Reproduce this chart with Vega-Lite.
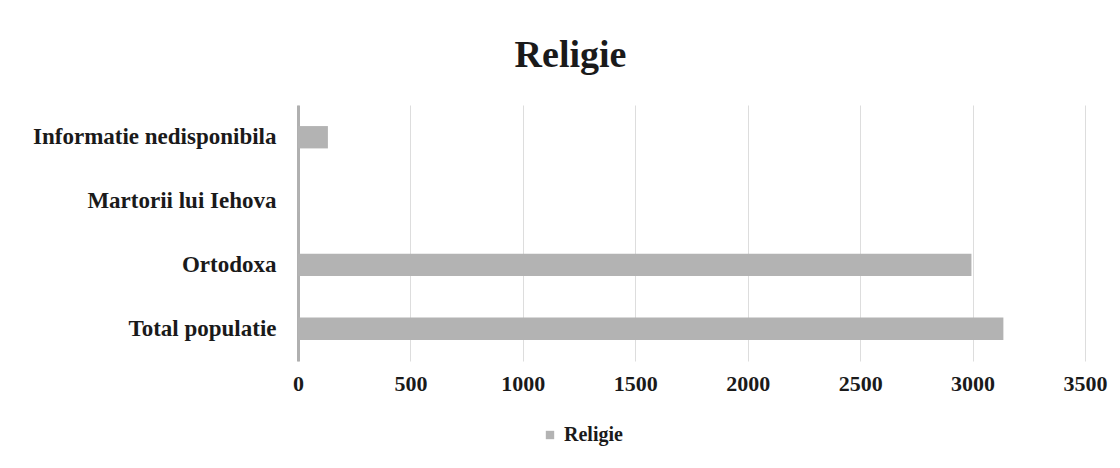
{
  "$schema": "https://vega.github.io/schema/vega-lite/v6.json",
  "autosize": "none",
  "width": 787,
  "height": 256,
  "padding": {"left": 298, "top": 105, "right": 35, "bottom": 107},
  "background": "white",
  "config": {
    "font": "Liberation Serif",
    "view": {"stroke": null}
  },
  "title": {
    "text": "Religie",
    "font": "Liberation Serif",
    "fontSize": 38,
    "fontWeight": "bold",
    "color": "#1a1a1a",
    "anchor": "middle",
    "dx": -121,
    "offset": 30
  },
  "data": {
    "values": [
      {"category": "Total populatie", "value": 3137, "series": "Religie"},
      {"category": "Ortodoxa", "value": 2995, "series": "Religie"},
      {"category": "Martorii lui Iehova", "value": 3, "series": "Religie"},
      {"category": "Informatie nedisponibila", "value": 133, "series": "Religie"}
    ]
  },
  "mark": {"type": "bar", "color": "#b3b3b3"},
  "encoding": {
    "y": {
      "field": "category",
      "type": "nominal",
      "sort": ["Informatie nedisponibila", "Martorii lui Iehova", "Ortodoxa", "Total populatie"],
      "scale": {"paddingInner": 0.65, "paddingOuter": 0.33},
      "axis": {
        "title": null,
        "ticks": false,
        "domain": true,
        "domainColor": "#b0b0b0",
        "domainWidth": 3,
        "labelFont": "Liberation Serif",
        "labelFontSize": 23,
        "labelFontWeight": "bold",
        "labelColor": "#1a1a1a",
        "labelPadding": 22,
        "labelLimit": 300
      }
    },
    "x": {
      "field": "value",
      "type": "quantitative",
      "scale": {"domain": [0, 3500], "nice": false},
      "axis": {
        "title": null,
        "values": [0, 500, 1000, 1500, 2000, 2500, 3000, 3500],
        "format": "d",
        "ticks": false,
        "domain": false,
        "grid": true,
        "gridColor": "#dddddd",
        "gridWidth": 1,
        "labelFont": "Liberation Serif",
        "labelFontSize": 22,
        "labelFontWeight": "bold",
        "labelColor": "#1a1a1a",
        "labelPadding": 12,
        "labelFlush": false
      }
    },
    "color": {
      "field": "series",
      "type": "nominal",
      "scale": {"range": ["#b3b3b3"]},
      "legend": {
        "title": null,
        "orient": "none",
        "legendX": 242,
        "legendY": 320,
        "symbolType": "square",
        "symbolSize": 70,
        "labelFont": "Liberation Serif",
        "labelFontSize": 20,
        "labelFontWeight": "bold",
        "labelColor": "#1a1a1a"
      }
    }
  }
}
